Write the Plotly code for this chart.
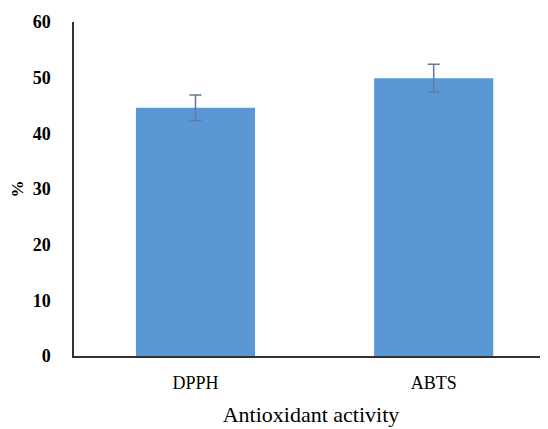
import plotly.graph_objects as go

categories = ["DPPH", "ABTS"]
values = [44.6, 49.9]
errors = [2.3, 2.5]
y_ticks = [0, 10, 20, 30, 40, 50, 60]

fig = go.Figure(go.Bar(
    x=categories, y=values,
    marker=dict(color="#5A98D5", line=dict(width=0)),
    error_y=dict(type="data", array=errors, visible=True, color="#5B7C9E", thickness=1.5, width=6),
    width=0.5,
))

serif = "Liberation Serif, Times New Roman, serif"
fig.update_layout(
    width=540, height=421,
    margin=dict(l=66, r=0, t=14, b=73),
    paper_bgcolor="white", plot_bgcolor="white",
    showlegend=False,
    font=dict(family=serif, color="black"),
)
fig.update_xaxes(
    automargin=False,
    range=[-0.51, 1.48], showline=True, linecolor="#333", linewidth=1.5,
    showgrid=False, ticks="", tickfont=dict(size=18, family=serif),
    ticklabelstandoff=10,
    title=dict(text="Antioxidant activity", font=dict(size=22, family=serif), standoff=14),
)
fig.update_yaxes(
    automargin=False,
    range=[0, 60], tickvals=y_ticks, showline=True, linecolor="#333", linewidth=1.5,
    showgrid=False, zeroline=False, ticks="", ticklabelstandoff=18,
    tickfont=dict(size=18, family=serif, weight="bold"),
    title=dict(text="<b>%</b>", font=dict(size=17, family=serif), standoff=32),
)
fig.write_html("out.html")
